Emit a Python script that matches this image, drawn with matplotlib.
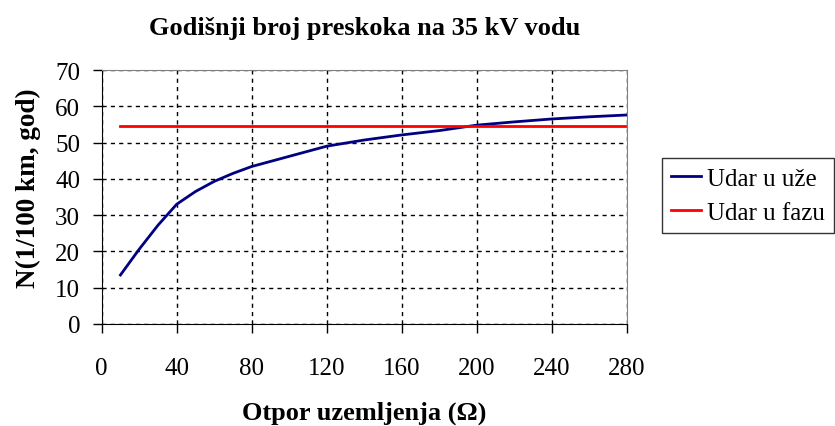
import numpy as np
import matplotlib.pyplot as plt

plt.rcParams.update({
    'font.family': 'Liberation Serif',
    'font.size': 18,
})

# data
otpor = [10, 20, 30, 40, 50, 60, 70, 80, 100, 120, 140, 160, 180, 200, 220, 240, 260, 280]
udar_uze = [13.5, 20.6, 27.2, 33.0, 36.5, 39.3, 41.5, 43.4, 46.2, 49.0, 50.7, 52.1, 53.3,
            54.8, 55.7, 56.5, 57.1, 57.6]
faza_x = [10, 280]
udar_faza = [54.5, 54.5]

xticks = np.arange(0, 281, 40)
yticks = np.arange(0, 71, 10)

fig = plt.figure(figsize=(8.35, 4.27), dpi=100)
ax = fig.add_axes([0.1218, 0.239, 0.6287, 0.5947])

ax.plot(otpor, udar_uze, color='#000080', lw=2, label='Udar u uže')
ax.plot(faza_x, udar_faza, color='#ff0000', lw=2, label='Udar u fazu')

ax.set_xlim(0, 280)
ax.set_ylim(0, 70)
ax.set_xticks(xticks)
ax.set_yticks(yticks)
ax.grid(True, color='black', linestyle=(0, (3, 3)), linewidth=1)
ax.tick_params(direction='out', length=6.5, width=1, color='black', labelsize=18)
ax.tick_params(axis='x', pad=17)
ax.tick_params(axis='y', pad=9)

ax.spines['left'].set_color('black')
ax.spines['bottom'].set_color('black')
ax.spines['top'].set_color('#808080')
ax.spines['right'].set_color('#808080')

ax.set_title('Godišnji broj preskoka na 35 kV vodu', fontsize=19, fontweight='bold', pad=26)
ax.set_xlabel('Otpor uzemljenja (Ω)', fontsize=19, fontweight='bold')
ax.set_ylabel('N(1/100 km, god)', fontsize=19.5, fontweight='bold')
ax.xaxis.set_label_coords(0.5, -0.30)
ax.yaxis.set_label_coords(-0.116, 0.537)

leg = fig.legend(loc='upper left', bbox_to_anchor=(0.7925, 0.627), borderaxespad=0,
                 frameon=True, fancybox=False, edgecolor='black', fontsize=18,
                 handlelength=1.2, handletextpad=0.27, borderpad=0.36, labelspacing=0.45)
leg.get_frame().set_linewidth(1)
for line in leg.get_lines():
    line.set_linewidth(2)

fig.savefig('out.png', dpi=100)
